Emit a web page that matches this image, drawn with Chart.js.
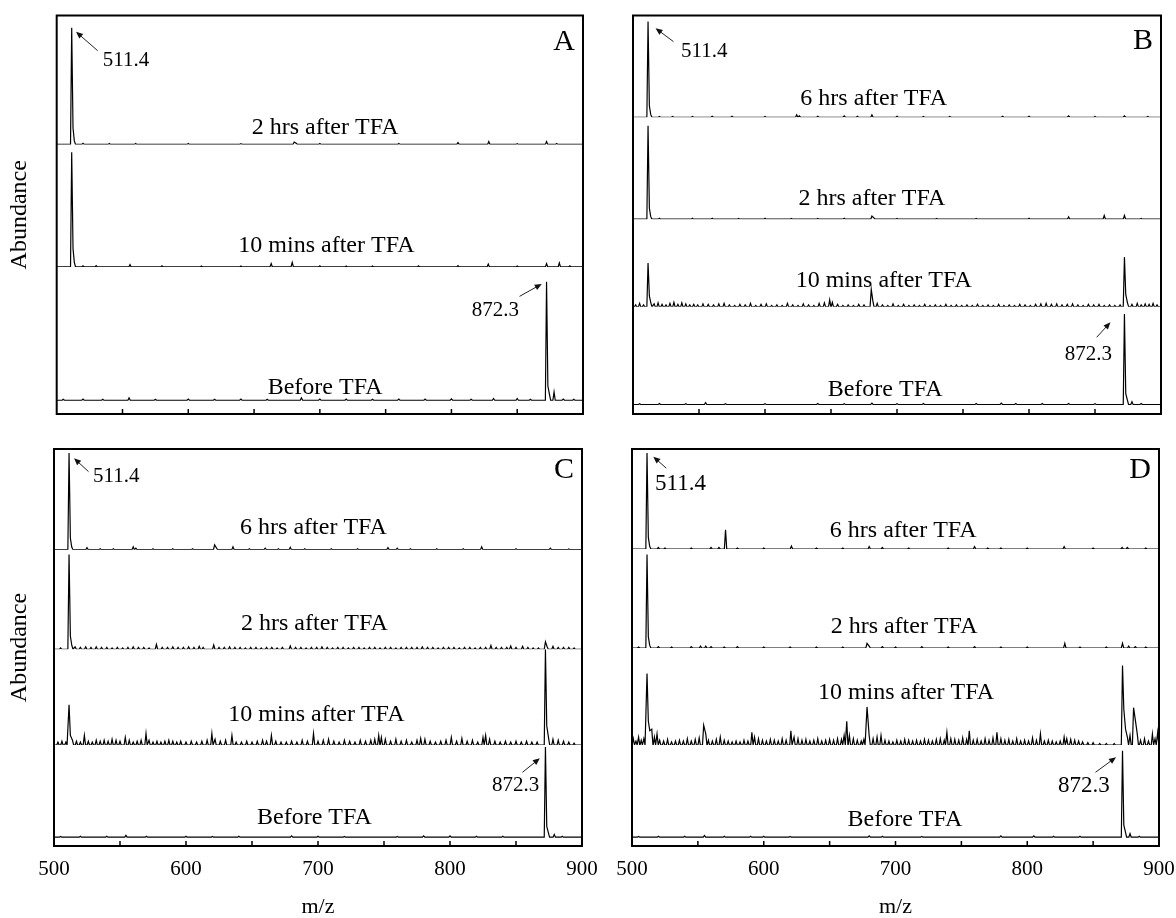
<!DOCTYPE html>
<html lang="en">
<head>
    <meta charset="UTF-8">
    <title>ESI-MS spectra before / after TFA</title>
    <script src="https://cdn.jsdelivr.net/npm/chart.js"></script>
    <style>
        body {
            margin: 0;
            background: #fff;
            overflow: hidden;
        }
        canvas {
            position: absolute;
            left: 0;
            top: 0;
        }
    </style>
</head>
<body>
    <canvas id="panelA" width="1200" height="940"></canvas>
    <canvas id="panelB" width="1200" height="940"></canvas>
    <canvas id="panelC" width="1200" height="940"></canvas>
    <canvas id="panelD" width="1200" height="940"></canvas>

    <script>
        // peak lists: [m/z, relative abundance]
        const peaksA2h = [[511.4,100],[512.4,14],[513.4,3],[520,1],[540,0.8],[560,0.8],[600,0.8],[640,0.6],[680.5,2],[682,1],[700,0.8],[760,0.8],[805,1.5],[828.4,2.5],[850,0.6],[872.3,2.5],[880,0.8]];
        const peaksA10m = [[511.4,100],[512.4,16],[513.4,4],[520,1],[530,1.2],[555.7,2],[580,1],[610,0.8],[640,0.8],[663,3],[679,4],[700,1],[720,0.8],[740,0.8],[775,1],[805,1.2],[828,2.5],[850,0.8],[872.3,3],[882,3.5],[890,1]];
        const peaksA0 = [[505,0.8],[520,1],[535,0.8],[555,2],[575,0.8],[600,1],[620,0.8],[640,1],[660,0.8],[686,2],[700,1],[720,1],[740,0.8],[760,1],[780,1],[800,1.2],[815,0.8],[832,1.5],[850,1.5],[860,0.8],[872.3,100],[873.3,12],[874.5,5],[878,7],[885,1],[893,0.8]];

        const peaksB6h = [[511.4,100],[512.4,12],[513.4,3],[520,0.8],[530,0.8],[545,0.8],[560,1],[575,1],[600,0.8],[624,2.5],[626,1.5],[640,1],[660,1.5],[670,1],[681,2.5],[700,1],[720,0.8],[740,0.8],[780,1],[800,1],[830,1.5],[850,0.8],[872.3,1.5],[890,0.8]];
        const peaksB2h = [[511.4,100],[512.4,12],[513.4,3],[520,1],[545,1],[560,1],[580,0.8],[600,1],[620,0.8],[640,0.8],[660,1],[681,3.5],[682.5,1.5],[700,0.8],[730,0.8],[760,0.8],[800,1],[830,2.5],[857,4],[872.3,4],[885,0.8]];
        const peaksB10m = [[502,4],[505,7],[508,4],[511.4,88],[512.4,22],[513.5,8],[516,6],[519,8],[522,5],[525,4],[528,7],[531,9],[534,5],[537,8],[540,6],[543,4],[546,5],[549,4],[553,6],[557,5],[561,4],[565,6],[569,7],[573,4],[577,3],[581,5],[585,4],[589,7],[593,3],[597,5],[601,6],[605,3],[609,4],[613,3],[617,7],[621,4],[625,3],[629,6],[633,4],[637,3],[641,7],[645,8],[649,14],[651,9],[655,5],[659,3],[663,4],[667,3],[671,5],[675,4],[680.5,35],[681.7,12],[685,7],[689,4],[693,3],[697,6],[701,3],[705,5],[709,3],[713,4],[717,3],[721,5],[725,3],[729,4],[733,3],[737,5],[741,3],[745,4],[749,3],[753,4],[757,3],[761,5],[765,3],[769,4],[773,3],[777,5],[781,3],[785,4],[789,3],[793,5],[797,4],[801,3],[805,5],[809,6],[813,7],[817,5],[821,6],[825,4],[829,5],[833,6],[837,4],[841,3],[845,5],[849,4],[853,5],[857,3],[861,4],[865,3],[869,4],[872.3,100],[873.3,25],[874.6,8],[878,5],[882,7],[885,4],[888,6],[891,5],[894,7],[897,4]];
        const peaksB0 = [[505,0.8],[520,1],[540,0.8],[555,2],[570,0.8],[600,0.8],[640,1],[660,0.8],[681,1.5],[700,0.8],[720,1],[760,1],[779,1.5],[790,1],[810,1],[830,1],[850,0.8],[872.3,100],[873.3,12],[874.5,5],[878,3],[885,1]];

        const peaksC6h = [[511.4,100],[512.4,12],[513.4,3],[525,2],[535,1],[545,1],[560,3],[562,1.5],[575,1],[590,1],[605,1],[621.7,5],[623,2],[635.6,3],[648,1],[660,1.5],[670,1],[679,2.5],[690,1],[710,1],[730,1],[753,2],[760,1.5],[770,1],[790,1],[810,1],[824,3],[850,1],[876,1.5],[890,0.8]];
        const peaksC2h = [[505,1.5],[511.4,100],[512.4,14],[513.5,4],[516,2.5],[520,2],[524,2.5],[528,2],[532,2.5],[536,2],[540,2],[544,1.5],[548,2],[552,1.5],[556,2],[560,2.5],[564,2],[568,2],[572,1.5],[577.6,5],[582,2],[586,2],[590,2.5],[594,2],[598,2],[602,2.5],[606,2],[610,3],[613,2],[621,4.5],[625,2],[629,2],[633,2.5],[637,2],[641,2],[645,1.5],[649,2],[653,2],[657,1.5],[661,2],[665,2],[669,1.5],[673,2],[679,3.5],[683,2],[687,2],[691,1.5],[695,2],[699,2],[703,2.5],[707,2],[711,1.5],[715,2],[719,2],[723,1.5],[727,2],[731,2],[735,1.5],[739,2],[743,2],[747,1.5],[751,2],[755,2],[759,1.5],[763,2],[767,2],[771,2],[775,2],[779,2.5],[783,2],[787,2],[791,1.5],[795,2],[799,2],[803,2],[807,1.5],[811,2],[815,2],[819,1.5],[823,2],[827,2],[831,4],[835,2],[839,2],[843,2],[846,3.5],[850,2],[855,3],[859,2],[863,1.5],[867,1.5],[872.3,8],[873.5,3],[878,3],[882,2],[886,2],[890,2],[894,1.5]];
        const peaksC10m = [[503,3],[506,4],[509,3],[511.4,42],[512.4,10],[514,5],[517,4],[520,3],[523,10],[526,4],[529,3],[532,5],[535,4],[538,5],[541,4],[544,6],[547,5],[550,4],[554,8],[557,5],[560,3],[563,4],[566,5],[569.7,12],[572,5],[575,3],[578,4],[581,3],[584,4],[587,5],[590,4],[593,3],[596,4],[600,3],[604,4],[608,3],[612,4],[616,5],[619.6,12],[622,6],[626,4],[630,5],[634.8,10],[638,3],[642,3],[646,4],[650,3],[654,4],[658,5],[661,4],[664.7,10],[668,4],[672,3],[676,3],[680,4],[684,3],[688,5],[692,4],[696.6,12],[700,4],[704,5],[708,6],[712,4],[716,3],[720,5],[724,4],[728,3],[732,5],[736,4],[740,5],[743,6],[746,10],[748,8],[751,6],[755,4],[759,6],[763,4],[767,5],[771,3],[775,5],[777.8,7],[781,6],[785,4],[789,3],[793,4],[797,5],[801,8],[805,4],[809,7],[813,4],[817,5],[821,3],[825,8],[827,10],[830,6],[834,4],[838,3],[842,4],[846,3],[850,4],[854,3],[858,4],[862,3],[866,3],[872.3,100],[873.3,20],[874.6,8],[878,6],[882,5],[886,4],[890,3],[894,2]];
        const peaksC0 = [[505,0.8],[520,1],[540,1],[554.5,2],[570,1],[600,1],[620,0.8],[640,1],[680,1.5],[700,1],[720,0.8],[760,0.8],[780,1.5],[800,1.5],[820,1],[840,1],[872.3,100],[873.3,12],[874.5,5],[879,3],[885,1]];

        const peaksD6h = [[511.4,100],[512.4,12],[513.4,3],[520,1.5],[525,1],[545,1],[560,1.5],[566,1.5],[571,20],[580,1],[600,1],[621,3],[640,1],[660,1],[680,2.5],[690,1.5],[710,1],[740,1],[760,2.5],[770,1],[780,1],[800,1],[828,2.5],[850,1],[872,1.5],[876,1.5],[890,1]];
        const peaksD2h = [[505,1],[511.4,100],[512.4,12],[513.4,3],[520,1.5],[530,1],[545,1.5],[552,2],[556,2],[560,1.5],[570,1],[580,1.5],[600,1],[620,1],[640,1],[660,1],[678.4,5],[680,2],[690,1.5],[700,1],[720,1.5],[740,1],[760,1.5],[780,1],[800,1],[828.5,5],[840,1],[860,1],[872.3,5],[877,2],[882,1.5],[890,1]];
        const peaksD10m = [[501,8],[503,5],[505,10],[507,6],[509,8],[511.4,90],[512.4,30],[513.5,18],[515,20],[517,10],[519,14],[521,6],[524,5],[527,7],[530,4],[533,5],[536,6],[539,5],[542,8],[545,5],[548,7],[551,9],[554.4,25],[556,14],[558,6],[561,5],[564,7],[567,10],[570,6],[573,5],[576,4],[579,5],[582,4],[585,6],[588,5],[591,16],[593,10],[596,8],[599,6],[602,5],[605,7],[608,6],[611,5],[614,8],[617,6],[620.6,18],[623,10],[626,8],[629,6],[632,7],[635,5],[638,6],[641,8],[644,5],[647,6],[650,7],[653,6],[656,8],[659,7],[661,12],[663,30],[665,12],[668,8],[671,6],[674,5],[676,7],[678.4,48],[680,12],[683,8],[686,10],[689,12],[692,6],[695,5],[698,4],[701,6],[704,5],[707,7],[710,6],[713,5],[716,6],[719,5],[722,7],[725,6],[728,5],[731,7],[734,8],[737,6],[739,16],[742,8],[745,7],[748,6],[751,9],[754,7],[756,18],[759,6],[762,7],[765,5],[768,8],[771,6],[774,9],[777,16],[780,8],[783,6],[786,7],[789,5],[792,8],[795,5],[798,6],[801,5],[804,9],[807,6],[810,14],[813,5],[816,6],[819,5],[822,4],[825,5],[828,10],[830,8],[833,7],[836,6],[839,5],[842,4],[846,3],[850,3],[855,2],[860,2],[866,2],[872.3,100],[873.3,45],[874.6,20],[876,10],[878,12],[880.7,47],[882,32],[883.5,14],[886,6],[889,8],[892,5],[895,14],[897,8],[899,16]];
        const peaksD0 = [[505,0.8],[520,1],[540,1],[555,2],[570,1],[590,1],[600,1],[620,0.8],[680,1.5],[690,1],[720,0.8],[780,1.5],[805,1.5],[820,1],[840,1],[872.3,100],[873.3,14],[874.5,6],[878,4],[885,1]];

        const traceNamesA = ["2 hrs after TFA", "10 mins after TFA", "Before TFA"];
        const traceNames = ["6 hrs after TFA", "2 hrs after TFA", "10 mins after TFA", "Before TFA"];
        const tagMz = [511.4, 872.3];
        const tagText = ["511.4", "872.3"];
        const xMin = 500, xMax = 900;

        const SERIF = '"Liberation Serif", "Times New Roman", serif';
        const HW = 0.9; // half width of a peak foot, m/z

        // stick spectrum -> polyline
        function toPoints(peaks) {
            const pts = [{ x: xMin, y: 0 }];
            peaks.forEach(([m, a], i) => {
                const prev = peaks[i - 1], next = peaks[i + 1];
                if (!prev || m - prev[0] >= 2 * HW) pts.push({ x: m - HW, y: 0 });
                pts.push({ x: m, y: a });
                if (!next || next[0] - m >= 2 * HW) pts.push({ x: m + HW, y: 0 });
            });
            pts.push({ x: xMax, y: 0 });
            return pts;
        }

        // panel layout: box = [left, top, right, bottom] px
        const panels = [
            {
                id: "panelA", letter: "A", box: [56.7, 15.5, 583, 422], letterDy: 34.5, axisLabels: false, yTitle: true, tagSize: 21,
                traces: [
                    { peaks: peaksA2h, name: traceNamesA[0], weight: 131.5, min: 0, max: 110.5, labelMz: 704, dy: 10 },
                    { peaks: peaksA10m, name: traceNamesA[1], weight: 125, min: 0, max: 106.8, labelMz: 705, dy: 15 },
                    { peaks: peaksA0, name: traceNamesA[2], weight: 150, min: -11.6, max: 112.4, labelMz: 704, dy: 6 }
                ],
                tags: [
                    { trace: 0, tip: [4.3, 4], tail: [26, 23], text: [31, 38] },
                    { trace: 2, tip: [-4.8, 2.3], tail: [-27, 14.7], text: [-74.8, 34.7] }
                ]
            },
            {
                id: "panelB", letter: "B", box: [633, 15.5, 1161, 422], letterDy: 33, axisLabels: false, yTitle: false, tagSize: 21,
                traces: [
                    { peaks: peaksB6h, name: traceNames[0], weight: 103.8, min: 0, max: 106.4, labelMz: 682.4, dy: 12 },
                    { peaks: peaksB2h, name: traceNames[1], weight: 104, min: 0, max: 109.1, labelMz: 681, dy: 14 },
                    { peaks: peaksB10m, name: traceNames[2], weight: 89.4, min: 0, max: 176.3, labelMz: 690, dy: 20 },
                    { peaks: peaksB0, name: traceNames[3], weight: 109.3, min: -10.5, max: 107.9, labelMz: 691, dy: 8 }
                ],
                tags: [
                    { trace: 0, tip: [7.5, 6.6], tail: [25.4, 20], text: [33, 35.6] },
                    { trace: 3, tip: [-14, 8.3], tail: [-27.8, 23.3], text: [-59.6, 45.7] }
                ]
            },
            {
                id: "panelC", letter: "C", box: [54, 449, 582, 854], letterDy: 29.3, axisLabels: true, yTitle: true, tagSize: 21,
                traces: [
                    { peaks: peaksC6h, name: traceNames[0], weight: 102.7, min: 0, max: 104.1, labelMz: 696.6, dy: 15.7 },
                    { peaks: peaksC2h, name: traceNames[1], weight: 101.6, min: 0, max: 105.2, labelMz: 697.3, dy: 19 },
                    { peaks: peaksC10m, name: traceNames[2], weight: 97.7, min: 0, max: 100, labelMz: 698.8, dy: 24 },
                    { peaks: peaksC0, name: traceNames[3], weight: 103, min: -9.8, max: 102.2, labelMz: 697.3, dy: 13 }
                ],
                tags: [
                    { trace: 0, tip: [5, 5.3], tail: [19.5, 18.7], text: [24, 28.7] },
                    { trace: 3, tip: [-5.6, 11.3], tail: [-23, 25.3], text: [-53.5, 43.7] }
                ]
            },
            {
                id: "panelD", letter: "D", box: [632, 449, 1159, 854], letterDy: 29.3, axisLabels: true, yTitle: false, tagSize: 23,
                traces: [
                    { peaks: peaksD6h, name: traceNames[0], weight: 102, min: 0, max: 104.1, labelMz: 705.9, dy: 11.7 },
                    { peaks: peaksD2h, name: traceNames[1], weight: 101, min: 0, max: 106, labelMz: 706.5, dy: 14.7 },
                    { peaks: peaksD10m, name: traceNames[2], weight: 99, min: 0, max: 122.2, labelMz: 708, dy: 46 },
                    { peaks: peaksD0, name: traceNames[3], weight: 103, min: -10.2, max: 106.5, labelMz: 707.2, dy: 11 }
                ],
                tags: [
                    { trace: 0, tip: [6.3, 3.7], tail: [19.3, 15.3], text: [8, 37] },
                    { trace: 3, tip: [-6.5, 6.6], tail: [-27, 21.6], text: [-64.5, 41.6] }
                ]
            }
        ];

        function arrow(ctx, x1, y1, x2, y2) {
            const ang = Math.atan2(y2 - y1, x2 - x1);
            const len = 7, half = 3;
            ctx.beginPath();
            ctx.moveTo(x1, y1);
            ctx.lineTo(x2 - Math.cos(ang) * len * 0.8, y2 - Math.sin(ang) * len * 0.8);
            ctx.stroke();
            ctx.beginPath();
            ctx.moveTo(x2, y2);
            ctx.lineTo(x2 - Math.cos(ang) * len - Math.sin(ang) * half, y2 - Math.sin(ang) * len + Math.cos(ang) * half);
            ctx.lineTo(x2 - Math.cos(ang) * len + Math.sin(ang) * half, y2 - Math.sin(ang) * len - Math.cos(ang) * half);
            ctx.closePath();
            ctx.fill();
        }

        // frame, inward ticks, trace names, peak tags, panel letter
        function decor(p) {
            return {
                id: "decor" + p.letter,
                afterDatasetsDraw(chart) {
                    const ctx = chart.ctx, a = chart.chartArea, xs = chart.scales.x;
                    ctx.save();
                    ctx.strokeStyle = "#000";
                    ctx.lineWidth = 2;
                    ctx.strokeRect(a.left, a.top, a.right - a.left, a.bottom - a.top);

                    ctx.lineWidth = 1.5;
                    xs.ticks.forEach(t => {
                        if (t.value <= xMin || t.value >= xMax) return;
                        const px = xs.getPixelForValue(t.value);
                        ctx.beginPath();
                        ctx.moveTo(px, a.bottom);
                        ctx.lineTo(px, a.bottom - 5);
                        ctx.stroke();
                    });

                    ctx.fillStyle = "#000";
                    ctx.textBaseline = "alphabetic";
                    ctx.textAlign = "center";
                    ctx.font = "24px " + SERIF;
                    p.traces.forEach((t, i) => {
                        const ys = chart.scales["y" + i];
                        ctx.fillText(t.name, xs.getPixelForValue(t.labelMz), ys.getPixelForValue(0) - t.dy);
                    });

                    ctx.strokeStyle = "#222";
                    ctx.lineWidth = 1;
                    p.tags.forEach((g, k) => {
                        const ys = chart.scales["y" + g.trace];
                        const px = xs.getPixelForValue(tagMz[k]);
                        const py = ys.getPixelForValue(100);
                        ctx.fillStyle = "#111";
                        arrow(ctx, px + g.tail[0], py + g.tail[1], px + g.tip[0], py + g.tip[1]);
                        ctx.font = p.tagSize + "px " + SERIF;
                        ctx.textAlign = "left";
                        ctx.fillStyle = "#000";
                        ctx.fillText(tagText[k], px + g.text[0], py + g.text[1]);
                    });

                    ctx.fillStyle = "#000";
                    ctx.font = "30px " + SERIF;
                    ctx.textAlign = "right";
                    ctx.fillText(p.letter, a.right - 8, a.top + p.letterDy);

                    if (p.yTitle) {
                        ctx.translate(20, (a.top + a.bottom) / 2);
                        ctx.rotate(-Math.PI / 2);
                        ctx.font = "24px " + SERIF;
                        ctx.textAlign = "center";
                        ctx.textBaseline = "middle";
                        ctx.fillText("Abundance", 0, 0);
                    }
                    ctx.restore();
                }
            };
        }

        panels.forEach(p => {
            const canvas = document.getElementById(p.id);
            const [left, top, right, bottom] = p.box;
            const scales = {
                x: {
                    type: "linear",
                    position: "bottom",
                    min: xMin,
                    max: xMax,
                    grid: { display: false },
                    border: { display: false },
                    ticks: {
                        display: p.axisLabels,
                        stepSize: 50,
                        autoSkip: false,
                        maxRotation: 0,
                        padding: 3,
                        color: "#000",
                        font: { family: SERIF, size: 21 },
                        callback: v => (v % 100 === 0 ? String(v) : "")
                    },
                    title: {
                        display: p.axisLabels,
                        text: "m/z",
                        color: "#000",
                        font: { family: SERIF, size: 22 },
                        padding: { top: 8.6, bottom: 0 }
                    }
                }
            };
            // stacked left axes are placed last-defined-on-top, so add them bottom trace first
            for (let i = p.traces.length - 1; i >= 0; i--) {
                const t = p.traces[i];
                scales["y" + i] = {
                    type: "linear",
                    display: false,
                    position: "left",
                    stack: "traces",
                    stackWeight: t.weight,
                    min: t.min,
                    max: t.max
                };
            }

            // x axis with labels is 66.2 px tall (ticks + m/z title)
            const padBottom = p.axisLabels ? canvas.height - bottom - 66.2 : canvas.height - bottom;

            new Chart(canvas, {
                type: "line",
                data: {
                    datasets: p.traces.map((t, i) => ({
                        label: t.name,
                        data: toPoints(t.peaks),
                        yAxisID: "y" + i,
                        borderColor: "#000",
                        borderWidth: 1.2,
                        pointRadius: 0,
                        tension: 0,
                        fill: false
                    }))
                },
                options: {
                    responsive: false,
                    animation: false,
                    events: [],
                    layout: {
                        padding: { left: left, top: top, right: canvas.width - right, bottom: padBottom }
                    },
                    plugins: {
                        legend: { display: false },
                        tooltip: { enabled: false }
                    },
                    scales: scales
                },
                plugins: [decor(p)]
            });
        });
    </script>
</body>
</html>
